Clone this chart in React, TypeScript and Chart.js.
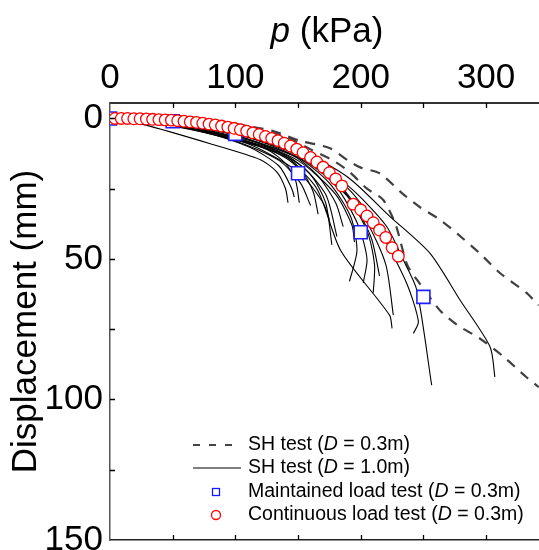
import React, { useEffect, useRef } from 'react';
import { Chart, registerables } from 'chart.js';
Chart.register(...registerables);

const FONT = "'Liberation Sans', Arial, sans-serif";
const X_MIN = 0;
const X_MAX = 342.2;
const Y_MIN = -5.5;
const Y_MAX = 150;
const xTickValues = [0, 50, 100, 150, 200, 250, 300];
const yTickValues = [0, 25, 50, 75, 100, 125, 150];

// Continuous load test (D = 0.3m)
const contP = [4, 9, 14, 19, 24, 29, 34, 39, 44, 49, 54, 59, 64, 69, 74, 79, 84, 89, 94, 99, 104, 109, 114, 119, 124, 129, 134, 139, 144, 149, 154, 160, 165, 170, 175, 180, 185, 194, 200, 205, 210, 215, 220, 225, 230];
const contD = [0, 0, 0, 0.1, 0.1, 0.2, 0.3, 0.4, 0.5, 0.6, 0.8, 1.0, 1.2, 1.4, 1.7, 2.0, 2.3, 2.7, 3.1, 3.5, 4.0, 4.5, 5.1, 5.7, 6.4, 7.1, 7.9, 8.8, 9.8, 10.9, 12.2, 13.9, 15.5, 17.3, 19.3, 21.5, 24, 30.5, 32.5, 34.7, 37.1, 39.7, 42.3, 46, 49];

// Maintained load test (D = 0.3m)
const maintP = [0, 50, 100, 150, 200, 250];
const maintD = [0, 1, 5.5, 19.5, 40.5, 63.5];

// SH test (D = 0.3m), dashed
const sh03A = [[0, 0], [50, 0.3], [100, 2], [130, 4.5], [152, 8], [175, 10.5], [190, 15], [200, 17.5], [215, 19.5], [234, 27], [247, 31.5], [263, 36], [277, 41], [295, 48], [311, 55], [332, 62], [342, 66.5]];
const sh03B = [[0, 0], [50, 0.5], [100, 2.5], [140, 6.5], [160, 11], [178, 15], [191, 19], [205, 25], [218, 29], [228, 38], [237, 52], [247, 58.7], [263, 68.2], [277, 73.5], [295, 78.3], [314, 84.8], [332, 92], [342, 95.6]];

// SH test (D = 1.0m), solid
const sh10c1 = [[0, 0], [27, 2.2], [80, 9], [120, 14.7], [133, 19], [140, 25], [142, 30]];
const sh10c2 = [[0, 0], [40, 2], [90, 6.5], [125, 11], [140, 16], [148, 22], [151, 30]];
const sh10c3 = [[0, 0], [45, 2], [100, 7], [135, 12], [152, 18], [162, 26], [166, 34]];
const sh10c4 = [[0, 0], [50, 2.3], [100, 7.5], [140, 13], [160, 20], [172, 30], [177, 45]];
const sh10c5 = [[0, 0], [50, 2], [100, 6.5], [145, 13], [165, 20], [180, 30], [186, 38.5]];
const sh10c6 = [[0, 0], [50, 1.8], [100, 6], [150, 14], [175, 23], [192, 35], [197, 47], [191, 58]];
const sh10c7 = [[0, 0], [50, 1.6], [100, 5.5], [150, 13], [180, 24], [198, 38], [205, 50], [202, 58.5]];
const sh10c8 = [[0, 0], [50, 1.5], [100, 5], [155, 14], [185, 25], [205, 40], [211, 52], [210, 62]];
const sh10c9 = [[0, 0], [50, 2], [100, 7], [140, 14], [165, 25], [184, 47], [223, 70], [225, 74.7]];
const sh10c10 = [[0, 0], [50, 1.5], [100, 5], [150, 13], [180, 22], [205, 37], [220, 52], [226, 70]];
const sh10c11 = [[0, 0], [50, 1.4], [100, 4.8], [150, 12.5], [190, 25], [215, 40], [236.7, 58.7], [246, 72.3], [242, 76.5]];
const sh10c12 = [[0, 0], [50, 1.4], [100, 4.5], [150, 12], [190, 24], [220, 38], [234, 50.4], [244.7, 61], [256.6, 94.9]];
const sh10c13 = [[0, 0], [50, 1.2], [100, 4.2], [150, 11], [190, 21], [223.4, 34.9], [255.3, 48], [279.2, 64.6], [303.2, 81.3], [307, 92]];
const sh10c14 = [[0, 0], [60, 3], [110, 10], [135, 17], [145, 25], [147, 28]];
const sh10c15 = [[0, 0], [50, 2], [110, 9], [150, 19], [170, 30], [175, 36]];
const sh10c16 = [[0, 0], [50, 2.5], [100, 8], [135, 15], [152, 23], [160, 31]];
const sh10c17 = [[0, 0], [50, 1.9], [100, 6.8], [150, 16], [172, 27], [181, 42]];
const sh10c18 = [[0, 0], [50, 1.7], [100, 6], [150, 15], [180, 27], [193, 38], [195, 44]];
const sh10c19 = [[0, 0], [50, 1.5], [100, 5.2], [155, 15], [190, 28], [208, 42], [215, 56]];

const sh10Curves = [sh10c1, sh10c2, sh10c3, sh10c4, sh10c5, sh10c6, sh10c7, sh10c8, sh10c9, sh10c10, sh10c11, sh10c12, sh10c13, sh10c14, sh10c15, sh10c16, sh10c17, sh10c18, sh10c19];
const sh03Curves = [sh03A, sh03B];

const legendLabels = ['SH test', 'SH test', 'Maintained load test', 'Continuous load test'];
const legendDiam = ['0.3m', '1.0m', '0.3m', '0.3m'];

const toPts = (c: number[][]) => c.map(([x, y]) => ({ x, y }));

function drawRich(ctx: CanvasRenderingContext2D, parts: { t: string; it?: boolean }[], x: number, y: number, size: number) {
  let cx = x;
  for (const p of parts) {
    ctx.font = `${p.it ? 'italic ' : ''}${size}px ${FONT}`;
    ctx.fillText(p.t, cx, y);
    cx += ctx.measureText(p.t).width;
  }
}

const decoPlugin = {
  id: 'deco',
  afterDraw(chart: any) {
    const ctx: CanvasRenderingContext2D = chart.ctx;
    const xs = chart.scales.x;
    const ys = chart.scales.y;
    const { top, bottom, left } = chart.chartArea;
    ctx.save();
    ctx.strokeStyle = '#000';
    ctx.lineWidth = 1.3;
    ctx.beginPath();
    for (const v of xTickValues) {
      if (v === 0) continue;
      const px = Math.round(xs.getPixelForValue(v)) + 0.5;
      ctx.moveTo(px, top);
      ctx.lineTo(px, top + 5);
      ctx.moveTo(px, bottom);
      ctx.lineTo(px, bottom - 5);
    }
    for (const v of yTickValues) {
      if (v === 150) continue;
      const py = Math.round(ys.getPixelForValue(v)) + 0.5;
      ctx.moveTo(left, py);
      ctx.lineTo(left + 5, py);
    }
    ctx.stroke();

    ctx.fillStyle = '#000';
    ctx.textBaseline = 'alphabetic';
    ctx.textAlign = 'left';
    const size = 35;
    ctx.font = `italic ${size}px ${FONT}`;
    const w1 = ctx.measureText('p').width;
    ctx.font = `${size}px ${FONT}`;
    const w2 = ctx.measureText(' (kPa)').width;
    drawRich(ctx, [{ t: 'p', it: true }, { t: ' (kPa)' }], 327 - (w1 + w2) / 2, 42, size);

    const lx0 = 193, lx1 = 241, mx = 216, tx = 248;
    const rows = [445, 468, 492, 515];
    ctx.lineCap = 'butt';
    ctx.strokeStyle = '#444';
    ctx.lineWidth = 2;
    ctx.setLineDash([7, 9]);
    ctx.beginPath();
    ctx.moveTo(lx0, rows[0]);
    ctx.lineTo(lx1, rows[0]);
    ctx.stroke();
    ctx.setLineDash([]);
    ctx.strokeStyle = '#000';
    ctx.lineWidth = 1.2;
    ctx.beginPath();
    ctx.moveTo(lx0, rows[1]);
    ctx.lineTo(lx1, rows[1]);
    ctx.stroke();
    ctx.strokeStyle = '#1a1aff';
    ctx.lineWidth = 1.3;
    ctx.strokeRect(mx - 3.5, rows[2] - 3.5, 7, 7);
    ctx.strokeStyle = '#ff0000';
    ctx.beginPath();
    ctx.arc(mx, rows[3], 4.5, 0, Math.PI * 2);
    ctx.stroke();
    ctx.fillStyle = '#000';
    ctx.textBaseline = 'middle';
    legendLabels.forEach((lab, i) => {
      drawRich(ctx, [{ t: lab + ' (' }, { t: 'D', it: true }, { t: ' = ' + legendDiam[i] + ')' }], tx, rows[i], 19.5);
    });
    ctx.restore();
  },
};

const zeroPad = (s: any) => {
  s.paddingLeft = 0;
  s.paddingRight = 0;
  s.paddingTop = 0;
  s.paddingBottom = 0;
};

export default function App() {
  const ref = useRef<HTMLCanvasElement | null>(null);
  useEffect(() => {
    if (!ref.current) return;
    const datasets: any[] = [];
    datasets.push({
      label: 'Continuous load test (D = 0.3m)',
      data: contP.map((p, i) => ({ x: p, y: contD[i] })),
      showLine: false,
      pointStyle: 'circle',
      pointRadius: 5.8,
      borderColor: '#ff0000',
      backgroundColor: '#ffffff',
      pointBorderWidth: 1.3,
      order: 0,
      clip: 0,
    });
    datasets.push({
      label: 'Maintained load test (D = 0.3m)',
      data: maintP.map((p, i) => ({ x: p, y: maintD[i] })),
      showLine: false,
      pointStyle: 'rect',
      pointRadius: 9.2,
      borderColor: '#2020ff',
      backgroundColor: '#ffffff',
      pointBorderWidth: 1.6,
      order: 1,
      clip: 0,
    });
    sh10Curves.forEach((c, i) => {
      datasets.push({
        label: 'SH test (D = 1.0m) ' + (i + 1),
        data: toPts(c),
        showLine: true,
        pointRadius: 0,
        borderColor: '#000000',
        borderWidth: 1.1,
        tension: 0.25,
        order: 2,
        clip: 0,
      });
    });
    sh03Curves.forEach((c, i) => {
      datasets.push({
        label: 'SH test (D = 0.3m) ' + (i + 1),
        data: toPts(c),
        showLine: true,
        pointRadius: 0,
        borderColor: '#404040',
        borderWidth: 2.2,
        borderDash: [10, 8],
        tension: 0.25,
        order: 3,
        clip: 0,
      });
    });

    const tickFont = { family: FONT, size: 35 };
    const chart = new Chart(ref.current, {
      type: 'scatter',
      data: { datasets },
      plugins: [decoPlugin],
      options: {
        animation: false,
        responsive: true,
        maintainAspectRatio: false,
        layout: { padding: 0, autoPadding: false },
        plugins: { legend: { display: false }, tooltip: { enabled: false } },
        scales: {
          x: {
            type: 'linear',
            position: 'top',
            min: X_MIN,
            max: X_MAX,
            afterBuildTicks: (s: any) => { s.ticks = xTickValues.map((v) => ({ value: v })); },
            afterFit: (s: any) => { s.height = 103; zeroPad(s); },
            ticks: {
              autoSkip: false,
              maxRotation: 0,
              padding: 4,
              color: '#000',
              font: tickFont,
              callback: (v: any) => (Number(v) % 100 === 0 ? String(v) : ''),
            },
            grid: { display: true, drawOnChartArea: false, drawTicks: false },
            border: { display: true, color: '#333', width: 2 },
          },
          x2: {
            type: 'linear',
            position: 'bottom',
            min: X_MIN,
            max: X_MAX,
            afterFit: (s: any) => { s.height = 10; zeroPad(s); },
            ticks: { display: false },
            grid: { display: true, drawOnChartArea: false, drawTicks: false },
            border: { display: true, color: '#222', width: 1.5 },
          },
          y: {
            type: 'linear',
            reverse: true,
            min: Y_MIN,
            max: Y_MAX,
            afterBuildTicks: (s: any) => { s.ticks = yTickValues.map((v) => ({ value: v })); },
            afterFit: (s: any) => { s.width = 110; zeroPad(s); },
            ticks: {
              autoSkip: false,
              padding: 7,
              color: '#000',
              font: tickFont,
              callback: (v: any) => (Number(v) % 50 === 0 ? String(v) : ''),
            },
            title: {
              display: true,
              text: 'Displacement (mm)',
              color: '#000',
              font: { family: FONT, size: 35 },
              padding: { top: 5, bottom: 0 },
            },
            grid: { display: true, drawOnChartArea: false, drawTicks: false },
            border: { display: true, color: '#555', width: 1.5 },
          },
        },
      } as any,
    });
    return () => chart.destroy();
  }, []);

  return (
    <div style={{ position: 'absolute', left: 0, top: 0, width: 539, height: 550, background: '#fff' }}>
      <canvas ref={ref} />
    </div>
  );
}
